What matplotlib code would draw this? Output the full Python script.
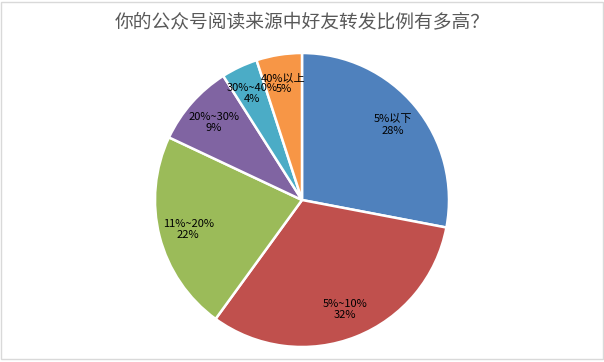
import matplotlib
matplotlib.use("Agg")
import matplotlib.pyplot as plt
from matplotlib.patches import Rectangle

plt.rcParams['font.family'] = ['Noto Sans CJK SC', 'DejaVu Sans']

# data
cats = ['5%以下', '5%~10%', '11%~20%', '20%~30%', '30%~40%', '40%以上']
vals = [28, 32, 22, 9, 4, 5]
colors = ['#4F81BD', '#C0504D', '#9BBB59', '#8064A2', '#4BACC6', '#F79646']
labels = [c + '\n' + str(v) + '%' for c, v in zip(cats, vals)]

fig = plt.figure(figsize=(6.04, 3.62), dpi=100)
fig.patches.append(Rectangle((0.002, 0.008), 0.996, 0.986, transform=fig.transFigure,
                             fill=False, edgecolor='#D9D9D9', linewidth=1))

W, H = 604, 362
cx, cy, r = 302, 200, 147
ax = fig.add_axes([(cx - r) / W, (H - cy - r) / H, 2 * r / W, 2 * r / H])

wedges, texts = ax.pie(vals, colors=colors, startangle=90, counterclock=False,
                       labels=labels, labeldistance=0.8,
                       wedgeprops=dict(edgecolor='white', linewidth=1.8),
                       textprops=dict(fontsize=8, color='black', ha='center',
                                      va='center', linespacing=1.15))
for t in texts:
    t.set_ha('center')
    t.set_va('center')
ax.set_xlim(-1, 1)
ax.set_ylim(-1, 1)
ax.set_aspect('equal')

fig.text(0.5, 1 - 22 / H, '你的公众号阅读来源中好友转发比例有多高？', ha='center', va='center',
         fontsize=13.5, color='#595959')

fig.savefig('out.png', dpi=100)
